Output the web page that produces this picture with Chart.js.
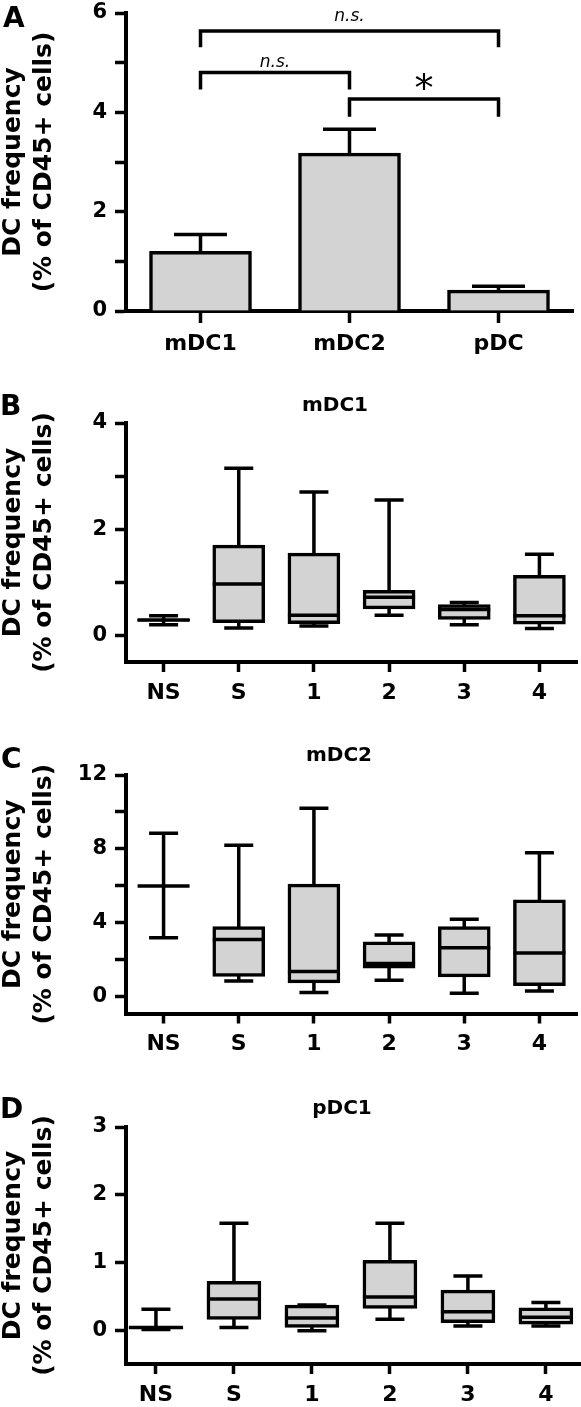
<!DOCTYPE html>
<html>
<head>
<meta charset="utf-8">
<script src="https://cdn.jsdelivr.net/npm/chart.js@4.4.0/dist/chart.umd.min.js"></script>
<style>
  body { margin: 0; background: #fff; width: 581px; height: 1407px; position: relative; overflow: hidden; font-family: "DejaVu Sans", sans-serif; }
  canvas { position: absolute; left: 0; }
  .lbl { position: absolute; font-weight: bold; color: #000; white-space: nowrap; }
  .letter { font-size: 28px; line-height: 28px; }
  .ttl { font-size: 20px; line-height: 20px; transform: translateX(-50%); }
</style>
</head>
<body>
<canvas id="chartA" width="581" height="370" style="top:0px"></canvas>
<canvas id="chartB" width="581" height="330" style="top:380px"></canvas>
<canvas id="chartC" width="581" height="330" style="top:735px"></canvas>
<canvas id="chartD" width="581" height="322" style="top:1085px"></canvas>

<div class="lbl letter" style="left:3px;top:4px">A</div>
<div class="lbl letter" style="left:0px;top:392px">B</div>
<div class="lbl letter" style="left:1px;top:745px">C</div>
<div class="lbl letter" style="left:0px;top:1095px">D</div>
<div class="lbl ttl" style="left:335px;top:394px">mDC1</div>
<div class="lbl ttl" style="left:339px;top:744px">mDC2</div>
<div class="lbl ttl" style="left:342px;top:1097px">pDC1</div>

<script>
// panel A: mean + SEM
var aLabels = ['mDC1', 'mDC2', 'pDC'];
var aMeans = [1.2, 3.18, 0.42];
var aSem = [0.34, 0.48, 0.08];
var aYTicks = [0, 1, 2, 3, 4, 5, 6];
var aYLabels = [0, 2, 4, 6];

// significance brackets (category index from/to, heights in data units)
var sigFrom = [0, 0, 1];
var sigTo = [2, 1, 2];
var sigLevel = [5.64, 4.8, 4.27];
var sigLegEnd = [5.31, 4.46, 3.91];
var sigTextAt = [5.84, 4.91, 4.23];
var sigText = ['n.s.', 'n.s.', '*'];

// box plots B-D
var groups = ['NS', 'S', '1', '2', '3', '4'];

var bMin = [0.2, 0.14, 0.18, 0.38, 0.2, 0.13];
var bQ1 = [0.27, 0.24, 0.22, 0.5, 0.3, 0.21];
var bMed = [0.29, 0.97, 0.38, 0.72, 0.49, 0.37];
var bQ3 = [0.31, 1.7, 1.55, 0.85, 0.58, 1.13];
var bMax = [0.37, 3.15, 2.7, 2.55, 0.62, 1.53];
var bYTicks = [0, 1, 2, 3, 4];
var bYLabels = [0, 2, 4];

var cMin = [3.2, 0.86, 0.23, 0.9, 0.2, 0.32];
var cQ1 = [6.0, 1.1, 0.76, 1.55, 1.08, 0.6];
var cMed = [6.0, 3.1, 1.37, 1.8, 2.65, 2.37];
var cQ3 = [6.0, 3.8, 6.1, 2.97, 3.8, 5.25];
var cMax = [8.85, 8.2, 10.2, 3.35, 4.2, 7.8];
var cYTicks = [0, 2, 4, 6, 8, 10, 12];
var cYLabels = [0, 4, 8, 12];

var dMin = [0.01, 0.04, -0.01, 0.16, 0.06, 0.06];
var dQ1 = [0.02, 0.16, 0.04, 0.32, 0.11, 0.09];
var dMed = [0.04, 0.46, 0.18, 0.49, 0.27, 0.19];
var dQ3 = [0.05, 0.72, 0.37, 1.03, 0.59, 0.33];
var dMax = [0.31, 1.58, 0.37, 1.58, 0.8, 0.41];
var dYTicks = [0, 1, 2, 3];
var dYLabels = [0, 1, 2, 3];

var yTitle = ['DC frequency', '(% of CD45+ cells)'];
var FONT = '"DejaVu Sans", sans-serif';
Chart.defaults.font.family = FONT;
Chart.defaults.color = '#000';

function yAxis(min, max, tickVals, labelVals) {
    return {
        min: min,
        max: max,
        afterBuildTicks: function (s) {
            s.ticks = tickVals.map(function (v) { return {value: v}; });
        },
        afterFit: function (s) {
            s.width = 126;
            s.paddingTop = 0;
            s.paddingBottom = 0;
        },
        ticks: {
            autoSkip: false,
            padding: 8,
            color: '#000',
            font: {size: 21, weight: 'bold'},
            callback: function (v) { return labelVals.indexOf(v) >= 0 ? String(v) : ''; }
        },
        grid: {drawOnChartArea: false, tickLength: 11, tickWidth: 3.5, tickColor: '#000'},
        border: {display: true, width: 4, color: '#000'},
        title: {
            display: true,
            text: yTitle,
            color: '#000',
            font: {size: 25, weight: 'bold', lineHeight: 1.24},
            padding: {top: -2, bottom: 0}
        }
    };
}

function groupAxis(min, max, height) {
    return {
        type: 'linear',
        min: min,
        max: max,
        offset: false,
        afterBuildTicks: function (s) {
            s.ticks = groups.map(function (g, i) { return {value: i}; });
        },
        afterFit: function (s) {
            s.height = height;
            s.paddingLeft = 0;
            s.paddingRight = 0;
        },
        ticks: {
            autoSkip: false,
            maxRotation: 0,
            padding: 8,
            color: '#000',
            font: {size: 22, weight: 'bold'},
            callback: function (v) { return groups[v]; }
        },
        grid: {offset: false, drawOnChartArea: false, tickLength: 10, tickWidth: 3.5, tickColor: '#000'},
        border: {display: true, width: 4, color: '#000'}
    };
}

function whiskerPlugin(st, boxW, capW) {
    return {
        id: 'whiskers',
        beforeDatasetsDraw: function (chart) {
            var x = chart.scales.x, y = chart.scales.y, ctx = chart.ctx;
            ctx.save();
            ctx.strokeStyle = '#000';
            ctx.lineWidth = 3.5;
            st.med.forEach(function (m, i) {
                var cx = x.getPixelForValue(i);
                var yTop = y.getPixelForValue(st.max[i]);
                var yBot = y.getPixelForValue(st.min[i]);
                ctx.beginPath();
                ctx.moveTo(cx, yTop);
                ctx.lineTo(cx, yBot);
                ctx.moveTo(cx - capW / 2, yTop);
                ctx.lineTo(cx + capW / 2, yTop);
                ctx.moveTo(cx - capW / 2, yBot);
                ctx.lineTo(cx + capW / 2, yBot);
                ctx.stroke();
            });
            ctx.restore();
        },
        afterDatasetsDraw: function (chart) {
            var x = chart.scales.x, y = chart.scales.y, ctx = chart.ctx;
            ctx.save();
            ctx.strokeStyle = '#000';
            ctx.lineWidth = 3.5;
            st.med.forEach(function (m, i) {
                var cx = x.getPixelForValue(i);
                var ym = y.getPixelForValue(m);
                ctx.beginPath();
                ctx.moveTo(cx - boxW / 2, ym);
                ctx.lineTo(cx + boxW / 2, ym);
                ctx.stroke();
            });
            ctx.restore();
        }
    };
}

function boxChart(id, st, xOpts, yOpts, boxW, capW, padTop, padRight) {
    return new Chart(document.getElementById(id), {
        type: 'bar',
        data: {
            datasets: [{
                data: groups.map(function (g, i) { return {x: i, y: [st.q1[i], st.q3[i]]}; }),
                backgroundColor: '#d3d3d3',
                borderColor: '#000',
                borderWidth: 3.5,
                borderSkipped: false,
                barThickness: boxW
            }]
        },
        options: {
            responsive: false,
            animation: false,
            devicePixelRatio: 1,
            layout: {padding: {top: padTop, right: padRight, left: 0, bottom: 0}},
            plugins: {legend: {display: false}, tooltip: {enabled: false}},
            scales: {x: xOpts, y: yOpts}
        },
        plugins: [whiskerPlugin(st, boxW, capW)]
    });
}

// error bars for panel A
var errorPlugin = {
    id: 'errorBars',
    beforeDatasetsDraw: function (chart) {
        var x = chart.scales.x, y = chart.scales.y, ctx = chart.ctx;
        ctx.save();
        ctx.strokeStyle = '#000';
        ctx.lineWidth = 3.5;
        aMeans.forEach(function (m, i) {
            var cx = x.getPixelForValue(i);
            var y0 = y.getPixelForValue(m);
            var y1 = y.getPixelForValue(m + aSem[i]);
            ctx.beginPath();
            ctx.moveTo(cx, y0);
            ctx.lineTo(cx, y1);
            ctx.moveTo(cx - 26.5, y1);
            ctx.lineTo(cx + 26.5, y1);
            ctx.stroke();
        });
        ctx.restore();
    }
};

var bracketPlugin = {
    id: 'brackets',
    afterDatasetsDraw: function (chart) {
        var x = chart.scales.x, y = chart.scales.y, ctx = chart.ctx;
        ctx.save();
        ctx.strokeStyle = '#000';
        ctx.fillStyle = '#000';
        ctx.lineWidth = 3.5;
        ctx.lineJoin = 'miter';
        for (var k = 0; k < sigText.length; k++) {
            var xa = x.getPixelForValue(sigFrom[k]);
            var xb = x.getPixelForValue(sigTo[k]);
            var yl = y.getPixelForValue(sigLevel[k]);
            var ye = y.getPixelForValue(sigLegEnd[k]);
            ctx.beginPath();
            ctx.moveTo(xa, ye);
            ctx.lineTo(xa, yl);
            ctx.lineTo(xb, yl);
            ctx.lineTo(xb, ye);
            ctx.stroke();
            ctx.textAlign = 'center';
            ctx.textBaseline = 'alphabetic';
            ctx.font = sigText[k] === '*' ? '38px ' + FONT : 'italic 17px ' + FONT;
            ctx.fillText(sigText[k], (xa + xb) / 2, y.getPixelForValue(sigTextAt[k]));
        }
        ctx.restore();
    }
};

new Chart(document.getElementById('chartA'), {
    type: 'bar',
    data: {
        labels: aLabels,
        datasets: [{
            data: aMeans,
            backgroundColor: '#d3d3d3',
            borderColor: '#000',
            borderWidth: 3.5,
            barThickness: 102
        }]
    },
    options: {
        responsive: false,
        animation: false,
        devicePixelRatio: 1,
        layout: {padding: {top: 13, right: 8, left: 0, bottom: 0}},
        plugins: {legend: {display: false}, tooltip: {enabled: false}},
        scales: {
            x: {
                type: 'category',
                offset: true,
                afterFit: function (s) {
                    s.height = 59;
                    s.paddingLeft = 0;
                    s.paddingRight = 0;
                },
                ticks: {padding: 8, color: '#000', font: {size: 22, weight: 'bold'}},
                grid: {offset: false, drawOnChartArea: false, tickLength: 12, tickWidth: 3.5, tickColor: '#000'},
                border: {display: true, width: 4, color: '#000'}
            },
            y: yAxis(0, 6, aYTicks, aYLabels)
        }
    },
    plugins: [errorPlugin, bracketPlugin]
});

boxChart('chartB', {min: bMin, q1: bQ1, med: bMed, q3: bQ3, max: bMax},
    groupAxis(-0.5, 5.5, 48), yAxis(-0.5, 4, bYTicks, bYLabels), 52, 29, 43, 4);
boxChart('chartC', {min: cMin, q1: cQ1, med: cMed, q3: cQ3, max: cMax},
    groupAxis(-0.5, 5.5, 51.5), yAxis(-0.9, 12, cYTicks, cYLabels), 52, 29, 40, 4);
boxChart('chartD', {min: dMin, q1: dQ1, med: dMed, q3: dQ3, max: dMax},
    groupAxis(-0.384, 5.45, 43), yAxis(-0.5, 3, dYTicks, dYLabels), 54, 29, 42, 0);
</script>
</body>
</html>
